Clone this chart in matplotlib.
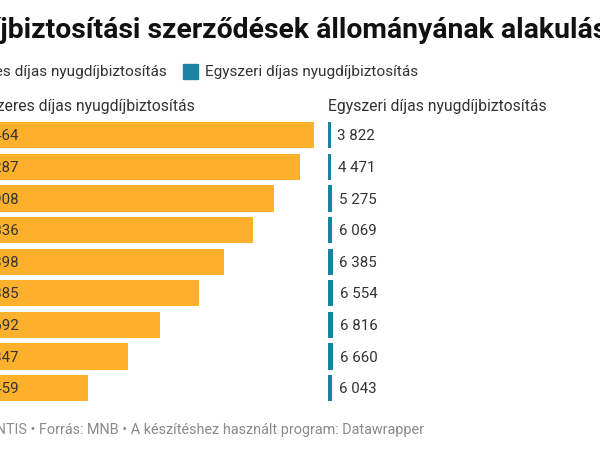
import matplotlib
matplotlib.use("Agg")
import matplotlib.pyplot as plt
from matplotlib.patches import Rectangle

plt.rcParams['font.family'] = ['Roboto', 'DejaVu Sans']

# Adatok
title = "Nyugdíjbiztosítási szerződések állományának alakulása"
series_names = ["Rendszeres díjas nyugdíjbiztosítás", "Egyszeri díjas nyugdíjbiztosítás"]
regular = [461464, 443287, 410908, 383836, 347398, 314885, 265692, 224347, 173459]
single = [3822, 4471, 5275, 6069, 6385, 6554, 6816, 6660, 6043]
footer = "Ábra: QUANTIS • Forrás: MNB • A készítéshez használt program: Datawrapper"

ORANGE = "#fdb02b"
BLUE = "#1b82a3"
TEXT = "#333333"
GREY = "#8a8a8a"

W, H = 600, 460
fig = plt.figure(figsize=(6, 4.6), dpi=100)
renderer = fig.canvas.get_renderer()


def fx(x):
    return x / W


def fy(y):
    return 1 - y / H


def text_width(s, **kw):
    t = fig.text(0, 0, s, **kw)
    w = t.get_window_extent(renderer).width
    t.remove()
    return w


# közös skála a két oszlopnak
px_per_unit = 0.000784
row0, step = 136.3, 31.6
n = len(regular)
top = row0 - step / 2
height_px = step * n


def bar_axes(left_px, width_px):
    ax = fig.add_axes([fx(left_px), fy(top + height_px), width_px / W, height_px / H])
    ax.set_xlim(0, width_px / px_per_unit)
    ax.set_ylim(n - 0.5, -0.5)
    ax.axis('off')
    return ax


def fmt(v):
    return f"{v:,}".replace(",", " ")


ax1 = bar_axes(-48, 376)
ax2 = bar_axes(327.7, 120)

ax1.barh(range(n), regular, height=0.83, color=ORANGE)
for i, v in enumerate(regular):
    ax1.annotate(fmt(v), xy=(0, i), xytext=(8.6, 0), textcoords='offset points',
                 va='center', ha='left', fontsize=10.8, color=TEXT)

ax2.barh(range(n), single, height=0.83, color=BLUE)
for i, v in enumerate(single):
    ax2.annotate(fmt(v), xy=(v, i), xytext=(4.8, 0), textcoords='offset points',
                 va='center', ha='left', fontsize=10.8, color=TEXT)

# Cím (balról levágva, mint az eredetin)
tkw = dict(fontsize=20.4, fontweight='bold', color='#111111')
fig.text(fx(-text_width("Nyugdí", **tkw) + 0.5), fy(38), title, va='baseline', ha='left', **tkw)

# Jelmagyarázat
lkw = dict(fontsize=11.1, color=TEXT)
lw = text_width(series_names[0], **lkw)
fig.text(fx(166.7), fy(76), series_names[0], va='baseline', ha='right', **lkw)
fig.add_artist(Rectangle((fx(166.7 - lw - 22), fy(80)), 15 / W, 15 / H,
                         transform=fig.transFigure, color=ORANGE))
fig.add_artist(Rectangle((fx(183), fy(80)), 15 / W, 15 / H,
                         transform=fig.transFigure, color=BLUE))
fig.text(fx(205), fy(76), series_names[1], va='baseline', ha='left', **lkw)

# Oszlopfejlécek
hkw = dict(fontsize=11.3, color=TEXT)
fig.text(fx(195), fy(111), series_names[0], va='baseline', ha='right', **hkw)
fig.text(fx(328.3), fy(111), series_names[1], va='baseline', ha='left', **hkw)

# Lábjegyzet
fig.text(fx(424), fy(434), footer, va='baseline', ha='right', fontsize=10.35, color=GREY)

fig.savefig("out.png", dpi=100)
